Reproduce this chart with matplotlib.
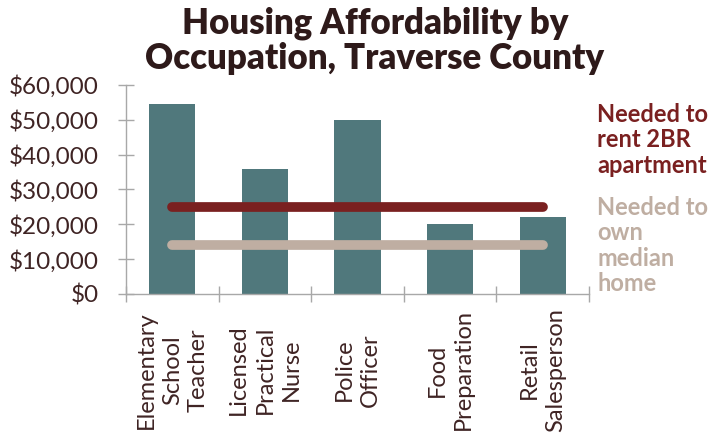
import matplotlib.pyplot as plt
from matplotlib.transforms import blended_transform_factory

occupations = ["Elementary\nSchool\nTeacher", "Licensed\nPractical\nNurse",
               "Police\nOfficer", "Food\nPreparation", "Retail\nSalesperson"]
wages = [54500, 36000, 50000, 20000, 22000]
rent_needed = 25000
own_needed = 14000
yticks = [0, 10000, 20000, 30000, 40000, 50000, 60000]

bar_color = "#50787c"
rent_color = "#7a2020"
own_color = "#bfaea2"
text_color = "#3f2424"
title_color = "#2e1a1a"

plt.rcParams['font.family'] = ['Lato', 'DejaVu Sans']

fig = plt.figure(figsize=(7.13, 4.34), dpi=100)
ax = fig.add_axes([0.1767, 0.3226, 0.6494, 0.4816])

x = list(range(len(occupations)))
ax.bar(x, wages, width=0.5, color=bar_color, zorder=2)
ax.plot([x[0], x[-1]], [rent_needed, rent_needed], color=rent_color, lw=7,
        solid_capstyle='round', zorder=3)
ax.plot([x[0], x[-1]], [own_needed, own_needed], color=own_color, lw=7,
        solid_capstyle='round', zorder=3)

ax.set_xlim(-0.5, len(occupations) - 0.5)
ax.set_ylim(0, 60000)
ax.set_yticks(yticks)
ax.set_yticklabels([f"${v:,}" for v in yticks], fontsize=17.5, color=text_color)
ax.set_xticks([i - 0.5 for i in range(len(occupations) + 1)])
ax.set_xticklabels([])
ax.tick_params(axis='both', direction='inout', length=11, width=1, color="#a8a8a8")
ax.tick_params(axis='y', pad=14)
for s in ['top', 'right']:
    ax.spines[s].set_visible(False)
for s in ['left', 'bottom']:
    ax.spines[s].set_color("#a8a8a8")
    ax.spines[s].set_linewidth(1)

trans = blended_transform_factory(ax.transData, fig.transFigure)
for i, lab in enumerate(occupations):
    ax.text(i, 1 - 370 / 434, lab, transform=trans, rotation=90, ha='center',
            va='center', multialignment='center', fontsize=17,
            color=text_color, linespacing=1.3)

fig.text(0.526, 0.985, "Housing Affordability by\nOccupation, Traverse County",
         ha='center', va='top', fontsize=25, fontweight='heavy', color=title_color,
         linespacing=1.08)

fig.text(0.838, 1 - 103 / 434, "Needed to\nrent 2BR\napartment", ha='left', va='top',
         fontsize=17, fontweight='bold', color=rent_color, linespacing=1.12)
fig.text(0.838, 1 - 196 / 434, "Needed to\nown\nmedian\nhome", ha='left', va='top',
         fontsize=17, fontweight='bold', color=own_color, linespacing=1.12)

fig.savefig("out.png", dpi=100)
